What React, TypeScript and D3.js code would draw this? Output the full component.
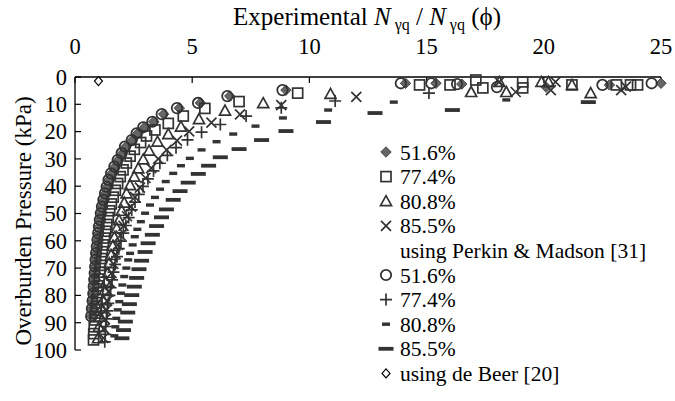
import React from "react";
import * as d3 from "d3";

// [overburden pressure (kPa), Nγq ratio]
const exp516: [number, number][] = [
  [2.3, 14.1], [2.3, 15.4], [2.6, 16.5], [3.7, 20.1], [2.9, 22.8], [2.3, 25.0],
  [4.8, 9.0], [7.0, 6.6], [9.5, 5.35], [11.4, 4.45], [13.6, 3.78], [16.4, 3.36], [18.4, 2.97],
  [20.6, 2.68], [23.1, 2.46], [25.5, 2.18], [27.9, 2.03], [30.4, 1.86], [32.8, 1.72], [35.3, 1.58],
  [37.7, 1.46], [40.2, 1.38], [42.6, 1.31], [45.0, 1.24], [47.5, 1.18], [49.9, 1.13], [52.3, 1.09],
  [54.8, 1.05], [57.2, 1.02], [59.6, 0.99], [62.1, 0.96], [64.5, 0.93], [66.9, 0.91], [69.4, 0.89],
  [71.8, 0.87], [74.2, 0.85], [76.7, 0.83], [79.3, 0.8], [82.0, 0.77], [84.8, 0.74], [87.6, 0.71],
];
const exp774: [number, number][] = [
  [2.9, 14.7], [2.9, 16.0], [1.1, 17.1], [4.0, 17.4], [1.8, 19.1], [4.0, 19.1], [2.9, 21.2],
  [2.9, 23.1], [2.9, 23.7], [2.9, 24.0],
  [5.9, 9.5], [9.0, 7.0], [11.5, 5.54], [14.3, 4.62], [17.0, 3.98], [19.4, 3.41], [21.6, 3.05],
  [24.0, 2.8], [26.5, 2.53], [29.0, 2.35], [31.5, 2.19], [34.0, 2.05], [36.5, 1.93], [39.0, 1.82],
  [41.5, 1.72], [44.0, 1.63], [46.5, 1.55], [49.0, 1.48], [51.5, 1.42], [54.0, 1.36], [56.5, 1.31],
  [59.0, 1.26], [61.5, 1.21], [64.0, 1.17], [66.5, 1.13], [69.0, 1.09], [71.5, 1.06], [74.0, 1.03],
  [76.5, 1.0], [79.0, 0.97], [81.5, 0.94], [84.0, 0.91], [86.5, 0.88], [89.0, 0.85], [91.5, 0.82],
  [94.0, 0.8], [96.3, 0.79],
];
const exp808: [number, number][] = [
  [1.8, 19.9], [1.8, 20.2], [2.9, 21.2], [5.5, 16.9], [5.5, 18.4], [5.9, 22.0], [1.8, 18.1],
  [6.2, 10.9], [9.6, 8.03], [12.3, 6.4], [15.4, 5.29], [18.2, 4.52], [20.9, 3.98], [23.7, 3.52],
  [27.0, 3.16], [30.2, 2.91], [33.5, 2.7], [36.5, 2.53], [39.6, 2.35], [42.6, 2.2], [46.0, 2.1],
  [49.0, 1.99], [52.4, 1.88], [55.4, 1.78], [58.7, 1.68], [61.9, 1.61], [65.2, 1.54], [68.2, 1.46],
  [71.7, 1.4], [75.0, 1.33], [78.0, 1.27], [81.7, 1.2], [84.7, 1.14], [87.8, 1.08], [91.5, 1.02],
  [95.7, 0.98],
];
const exp855: [number, number][] = [
  [1.8, 18.1], [5.5, 18.8], [1.8, 20.5], [4.8, 20.3], [4.8, 23.3], [3.5, 23.5],
  [7.3, 12.0], [10.3, 8.8], [13.7, 7.04], [16.7, 5.82], [19.9, 4.87], [23.3, 4.35], [26.7, 3.91],
  [30.0, 3.55], [33.4, 3.25], [37.0, 3.01], [40.5, 2.77], [44.0, 2.56], [47.5, 2.39], [51.0, 2.22],
  [54.5, 2.07], [58.0, 1.94], [61.5, 1.83], [65.0, 1.73], [68.4, 1.64], [71.8, 1.56], [75.2, 1.49],
  [78.6, 1.43], [82.0, 1.37], [85.4, 1.32], [88.8, 1.28], [92.2, 1.24], [95.6, 1.21],
];
const pm516: [number, number][] = [
  [2.3, 13.9], [2.3, 15.2], [2.6, 16.3], [3.7, 18.0], [2.9, 22.5], [2.3, 24.6],
  [4.8, 8.85], [7.0, 6.5], [9.5, 5.25], [11.4, 4.35], [13.6, 3.7], [16.4, 3.3], [18.4, 2.91],
  [20.6, 2.63], [23.1, 2.42], [25.5, 2.13], [27.9, 1.99], [30.4, 1.82], [32.8, 1.68], [35.3, 1.54],
  [37.7, 1.43], [40.2, 1.35], [42.6, 1.28], [45.0, 1.21], [47.5, 1.15], [49.9, 1.1], [52.3, 1.06],
  [54.8, 1.02], [57.2, 0.99], [59.6, 0.96], [62.1, 0.93], [64.5, 0.9], [66.9, 0.88], [69.4, 0.86],
  [71.8, 0.84], [74.2, 0.82], [76.7, 0.8], [79.3, 0.78], [82.0, 0.75], [84.8, 0.72], [87.6, 0.69],
];
const pm774: [number, number][] = [
  [5.9, 15.1], [8.8, 11.1], [11.3, 8.8], [14.3, 7.3], [17.4, 6.2], [20.2, 5.4], [23.0, 4.8],
  [25.9, 4.31], [28.7, 3.94], [31.6, 3.62], [34.4, 3.35], [37.3, 3.11], [40.1, 2.9], [43.0, 2.72],
  [45.8, 2.56], [48.7, 2.42], [51.5, 2.29], [54.4, 2.17], [57.2, 2.06], [60.1, 1.96], [62.9, 1.87],
  [65.8, 1.79], [68.6, 1.71], [71.5, 1.64], [74.3, 1.58], [77.2, 1.52], [80.0, 1.47], [82.9, 1.42],
  [85.7, 1.38], [88.6, 1.34], [91.4, 1.31], [94.3, 1.29], [97.0, 1.27],
];
const pm808: [number, number][] = [
  [8.4, 18.4], [9.2, 13.6], [12.1, 10.8], [15.0, 8.87], [18.0, 7.7], [20.9, 6.75], [23.7, 6.04],
  [26.7, 5.4], [29.8, 4.9], [32.5, 4.52], [35.3, 4.19], [38.3, 3.87], [41.1, 3.63], [44.1, 3.41],
  [46.9, 3.2], [49.9, 2.99], [53.0, 2.81], [55.8, 2.66], [58.5, 2.55], [61.5, 2.46], [64.6, 2.35],
  [67.0, 2.27], [70.0, 2.19], [73.1, 2.1], [76.2, 2.02], [79.2, 1.96], [82.3, 1.89], [85.3, 1.82],
  [88.4, 1.76], [91.5, 1.72], [94.8, 1.68],
];
const pm855: [number, number][] = [
  [9.2, 21.9], [12.1, 16.1], [13.2, 12.8], [16.5, 10.6], [19.8, 9.0], [23.1, 7.96], [26.4, 7.0],
  [29.4, 6.2], [32.5, 5.7], [35.5, 5.26], [38.7, 4.83], [41.8, 4.48], [45.0, 4.19], [48.5, 3.9],
  [51.4, 3.69], [54.6, 3.48], [57.8, 3.3], [60.9, 3.12], [64.1, 2.99], [67.3, 2.84], [70.4, 2.73],
  [73.6, 2.63], [76.8, 2.53], [79.9, 2.42], [83.2, 2.32], [86.3, 2.25], [89.6, 2.15], [92.7, 2.07],
  [95.7, 2.0],
];
const deBeer: [number, number][] = [[1.5, 1.0]];

const xTicks = [0, 5, 10, 15, 20, 25];
const yTicks = [0, 10, 20, 30, 40, 50, 60, 70, 80, 90, 100];

const legendItems: { label: string; type: string | null }[] = [
  { label: "51.6%", type: "diamond" },
  { label: "77.4%", type: "square" },
  { label: "80.8%", type: "triangle" },
  { label: "85.5%", type: "x" },
  { label: "using Perkin & Madson [31]", type: null },
  { label: "51.6%", type: "circle" },
  { label: "77.4%", type: "plus" },
  { label: "80.8%", type: "dash" },
  { label: "85.5%", type: "longdash" },
  { label: "using de Beer [20]", type: "openDiamond" },
];

const series: { data: [number, number][]; type: string }[] = [
  { data: exp516, type: "diamond" },
  { data: exp774, type: "square" },
  { data: exp808, type: "triangle" },
  { data: exp855, type: "x" },
  { data: pm516, type: "circle" },
  { data: pm774, type: "plus" },
  { data: pm808, type: "dash" },
  { data: pm855, type: "longdash" },
  { data: deBeer, type: "openDiamond" },
];

const INK = "#333";
const FONT = "'Liberation Serif', 'Times New Roman', serif";

function Marker({ type, cx, cy }: { type: string; cx: number; cy: number }) {
  const sw = 1.7;
  switch (type) {
    case "diamond":
      return (
        <path d={`M${cx},${cy - 5.2}L${cx + 5.2},${cy}L${cx},${cy + 5.2}L${cx - 5.2},${cy}Z`}
          fill="#666" stroke="#444" strokeWidth={1} />
      );
    case "square":
      return <rect x={cx - 5} y={cy - 5} width={10} height={10} fill="none" stroke={INK} strokeWidth={sw} />;
    case "triangle":
      return (
        <path d={`M${cx},${cy - 5.5}L${cx + 5.5},${cy + 4.5}L${cx - 5.5},${cy + 4.5}Z`}
          fill="none" stroke={INK} strokeWidth={sw} />
      );
    case "x":
      return (
        <path d={`M${cx - 5},${cy - 5}L${cx + 5},${cy + 5}M${cx - 5},${cy + 5}L${cx + 5},${cy - 5}`}
          stroke={INK} strokeWidth={sw} fill="none" />
      );
    case "circle":
      return <circle cx={cx} cy={cy} r={5.2} fill="none" stroke={INK} strokeWidth={1.8} />;
    case "plus":
      return (
        <path d={`M${cx - 6},${cy}L${cx + 6},${cy}M${cx},${cy - 6}L${cx},${cy + 6}`}
          stroke={INK} strokeWidth={sw} fill="none" />
      );
    case "dash":
      return <rect x={cx - 4} y={cy - 1.7} width={8} height={3.4} fill={INK} />;
    case "longdash":
      return <rect x={cx - 7.5} y={cy - 1.9} width={15} height={3.8} fill={INK} />;
    case "openDiamond":
      return (
        <path d={`M${cx},${cy - 4.5}L${cx + 4},${cy}L${cx},${cy + 4.5}L${cx - 4},${cy}Z`}
          fill="#fff" stroke="#000" strokeWidth={1.2} />
      );
    default:
      return null;
  }
}

export default function App() {
  const width = 675;
  const height = 401;
  const x = d3.scaleLinear().domain([0, 25]).range([75, 661]);
  const y = d3.scaleLinear().domain([0, 100]).range([77, 350]);

  const legendX = 386;
  const legendY0 = 152;
  const legendStep = 24.6;

  return (
    <svg width={width} height={height} style={{ position: "absolute", left: 0, top: 0, background: "#fff" }}
      fontFamily={FONT}>
      {/* top title */}
      <text x={(x(0) + x(25)) / 2 - 1} y={25} textAnchor="middle" fontSize={25} fill="#000">
        Experimental <tspan fontStyle="italic">N</tspan>
        <tspan fontSize={16} dy={5}> γq</tspan>
        <tspan dy={-5}> / </tspan>
        <tspan fontStyle="italic">N</tspan>
        <tspan fontSize={16} dy={5}> γq</tspan>
        <tspan dy={-5}> (ϕ)</tspan>
      </text>

      {/* top axis */}
      <line x1={x(0)} x2={x(25)} y1={y(0)} y2={y(0)} stroke="#000" strokeWidth={1.3} />
      {xTicks.map((t) => (
        <g key={`xt${t}`}>
          <line x1={x(t)} x2={x(t)} y1={y(0)} y2={y(0) + 6} stroke="#000" strokeWidth={1.2} />
          <text x={x(t)} y={54} textAnchor="middle" fontSize={22.5} fill="#000">{t}</text>
        </g>
      ))}

      {/* left axis */}
      <line x1={x(0)} x2={x(0)} y1={y(0)} y2={y(100)} stroke="#000" strokeWidth={1.3} />
      {yTicks.map((t) => (
        <g key={`yt${t}`}>
          <line x1={x(0)} x2={x(0) + 6} y1={y(t)} y2={y(t)} stroke="#000" strokeWidth={1.2} />
          <text x={67} y={y(t)} dy="0.35em" textAnchor="end" fontSize={22.5} fill="#000">{t}</text>
        </g>
      ))}
      <text transform={`translate(31,221) rotate(-90)`} textAnchor="middle"
        fontSize={23} fill="#000">
        Overburden Pressure (kPa)
      </text>

      {/* data */}
      {series.map((s, si) => (
        <g key={`s${si}`}>
          {s.data.map(([p, n], i) => (
            <Marker key={i} type={s.type} cx={x(n)} cy={y(p)} />
          ))}
        </g>
      ))}

      {/* legend */}
      {legendItems.map((it, i) => {
        const cy = legendY0 + i * legendStep;
        return (
          <g key={`lg${i}`}>
            {it.type && <Marker type={it.type} cx={legendX} cy={cy} />}
            <text x={400} y={cy} dy="0.35em" fontSize={21.5} fill="#000">{it.label}</text>
          </g>
        );
      })}
    </svg>
  );
}
